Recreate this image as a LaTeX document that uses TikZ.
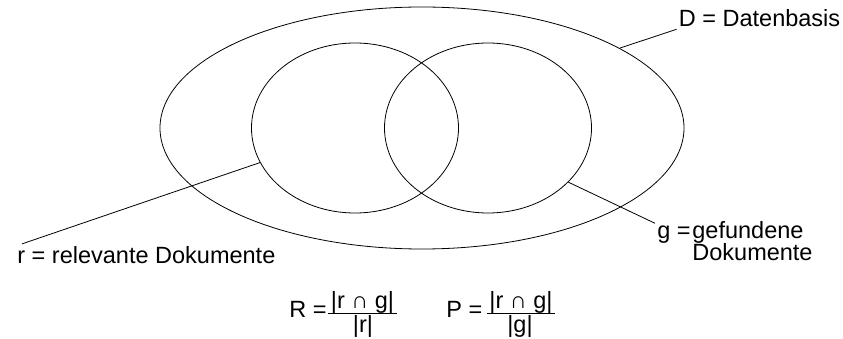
\documentclass[tikz,border=0pt]{standalone}
\usepackage{fontspec}
\setmainfont{Liberation Sans}
\usepackage{tikz}
\usetikzlibrary{shapes.geometric}

\begin{document}
\begin{tikzpicture}[x=1pt, y=-1pt, line width=0.8pt,
  menge/.style={ellipse, draw, inner sep=0pt},
  lbl/.style={inner sep=2pt, font=\fontsize{23.5}{22}\selectfont}]
\useasboundingbox (0,0) rectangle (843,339);
% Datenbasis und die beiden Teilmengen
\node[menge, minimum width=524pt, minimum height=242pt] (D) at (422,128) {};
\node[menge, minimum width=207pt, minimum height=170pt] (r) at (355,128) {};
\node[menge, minimum width=207pt, minimum height=170pt] (g) at (488,128) {};
% Beschriftungen
\node[lbl, anchor=base west] (Dl) at (676.5,26.7) {D = Datenbasis};
\node[lbl, anchor=base west] (rl) at (15,263.3) {r = relevante Dokumente};
\node[lbl, anchor=base west] (gs) at (655,238.3) {g =};
\node[lbl, anchor=base west, align=left] (gl) at (690,260.5) {gefundene\\Dokumente};
\draw (Dl.south west) -- (D.22.5);
\draw ([xshift=7pt]rl.north west) -- (r.200.7);
\draw (gs.north west) -- (g.-34.8);
% Recall und Precision
\node[lbl, anchor=base west] (R) at (287,317.3) {R =};
\node[lbl, anchor=base] (Rz) at (362.5,308) {|r ∩ g|};
\node[lbl, anchor=base] (Rn) at (363,332) {|r|};
\draw (328,313) -- (397,313);
\node[lbl, anchor=base west] (P) at (444,317.3) {P =};
\node[lbl, anchor=base] (Pz) at (521,308) {|r ∩ g|};
\node[lbl, anchor=base] (Pn) at (520,332) {|g|};
\draw (487,313) -- (555,313);
\end{tikzpicture}
\end{document}
